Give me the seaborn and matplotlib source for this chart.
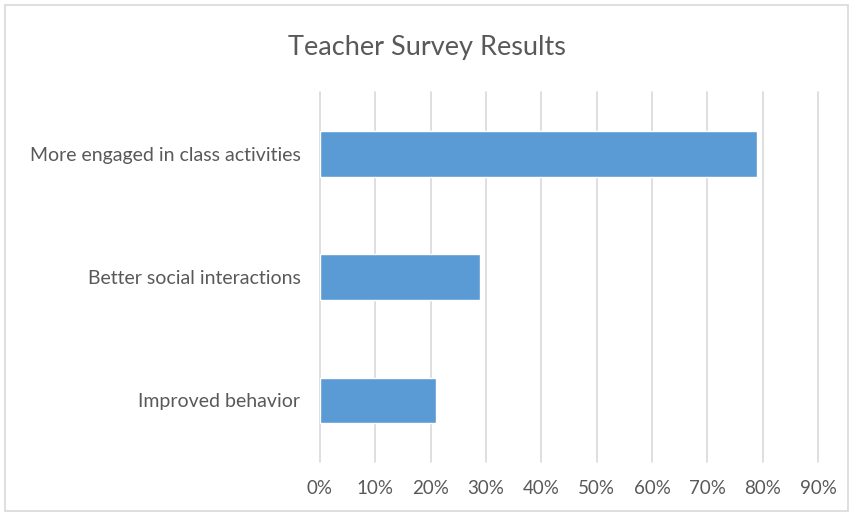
import matplotlib
matplotlib.use("Agg")
import matplotlib.pyplot as plt
import seaborn as sns
import pandas as pd
from matplotlib.ticker import FuncFormatter, MultipleLocator
from matplotlib.patches import Rectangle

categories = ["More engaged in class activities", "Better social interactions", "Improved behavior"]
values = [0.79, 0.29, 0.21]
title = "Teacher Survey Results"

df = pd.DataFrame({"category": categories, "value": values})

sns.set_theme(style="white")
plt.rcParams['font.family'] = ['Lato', 'DejaVu Sans']

fig = plt.figure(figsize=(8.53, 5.14), dpi=100)
ax = fig.add_axes([0.375, 0.101, 0.584, 0.72])

sns.barplot(data=df, x="value", y="category", color="#5B9BD5", saturation=1,
            width=0.37, ax=ax, zorder=3)

ax.set_xlim(0, 0.9)
ax.xaxis.set_major_locator(MultipleLocator(0.1))
ax.xaxis.set_major_formatter(FuncFormatter(lambda v, p: f"{round(v*100):d}%"))
ax.grid(axis="x", color="#D9D9D9", linewidth=1.2, zorder=0)
ax.grid(axis="y", visible=False)
for gl in ax.get_xgridlines():
    gl.set_clip_on(False)
for s in ax.spines.values():
    s.set_visible(False)
ax.set_xlabel("")
ax.set_ylabel("")
ax.tick_params(axis="both", length=0, labelcolor="#595959")
ax.tick_params(axis="x", pad=13, labelsize=13.5)
ax.tick_params(axis="y", pad=14, labelsize=14)

fig.text(0.5, 0.908, title, ha="center", va="center", fontsize=19.5, color="#595959")

fig.patches.append(Rectangle((0.006, 0.006), 0.988, 0.985, transform=fig.transFigure,
                             fill=False, edgecolor="#D9D9D9", linewidth=1.2))

fig.savefig("out.png", dpi=100, facecolor="white")
